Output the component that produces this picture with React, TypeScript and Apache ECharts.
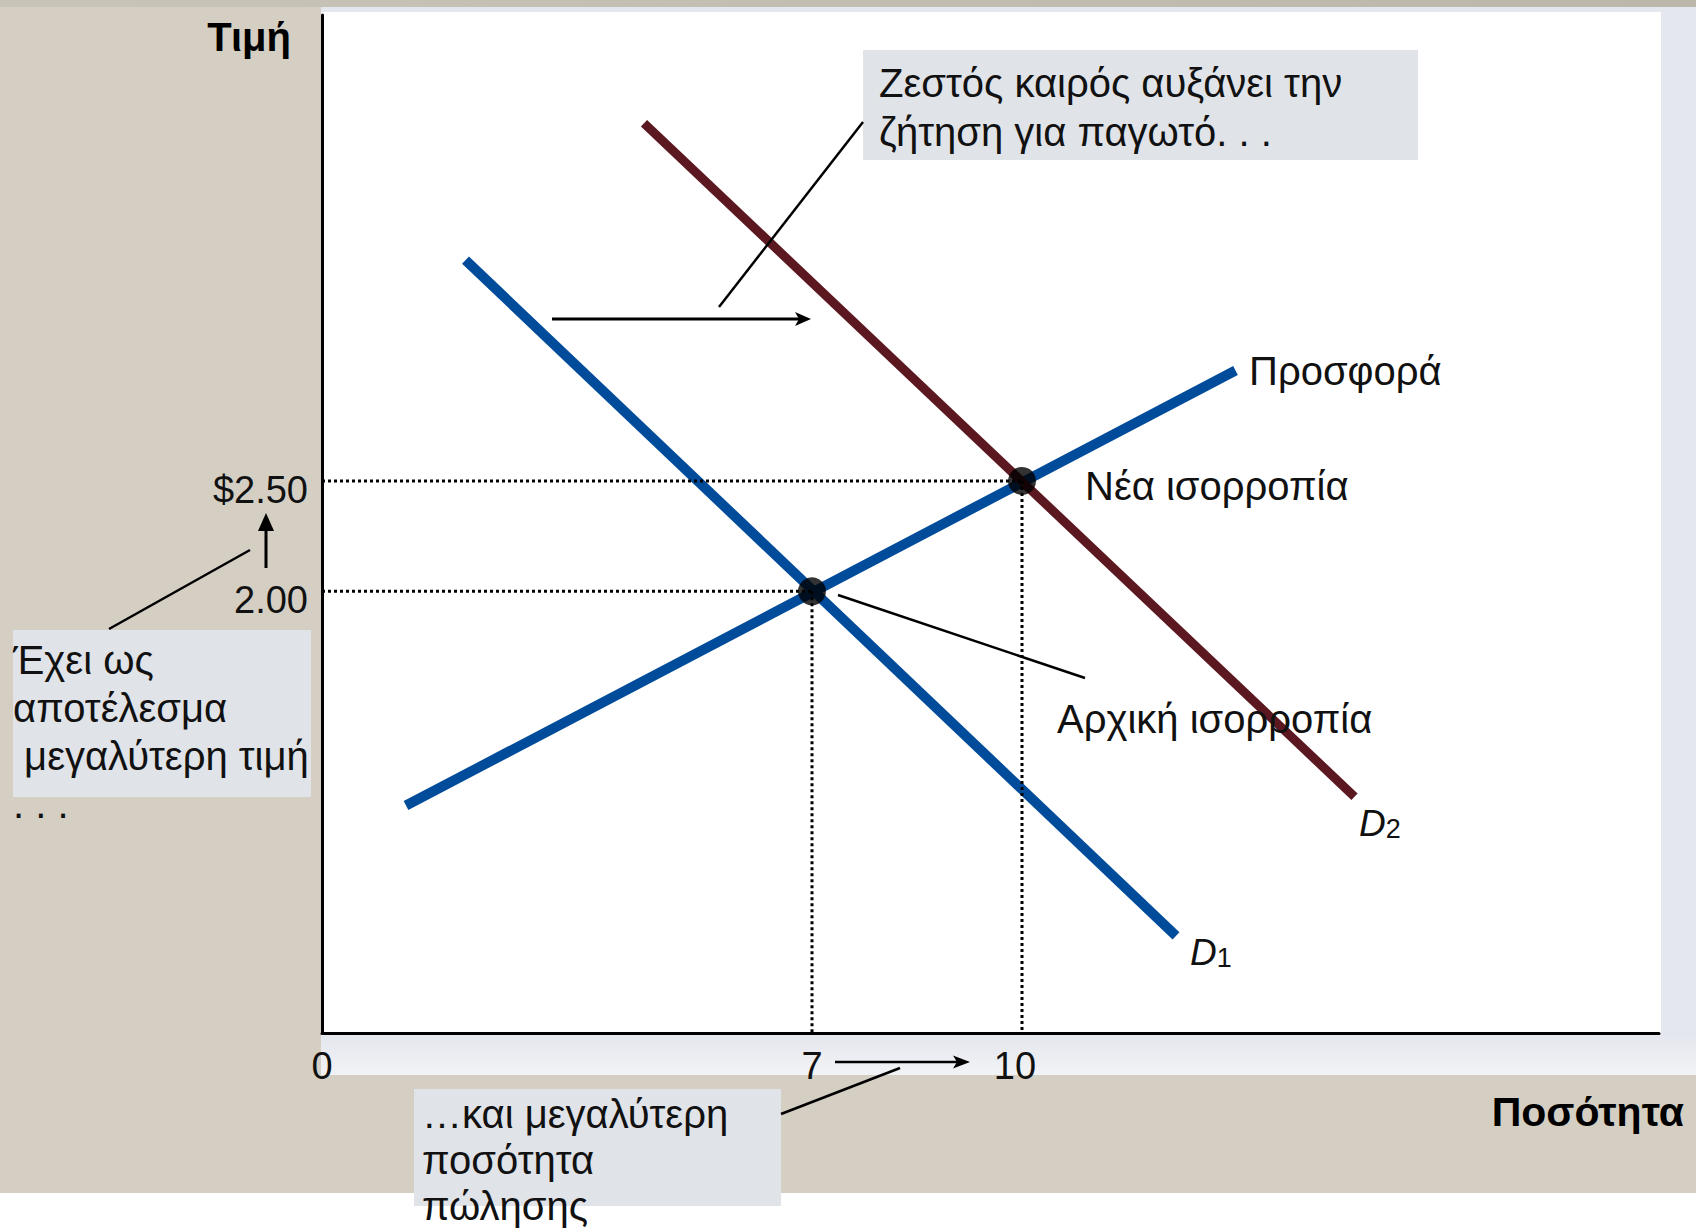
import React, { useEffect, useRef } from "react";
import * as echarts from "echarts";

// ---- data (quantity, price) ----
const supplyQ = [1.2, 13.05];
const supplyP = [1.03, 3.0];
const d1Q = [2.05, 12.2];
const d1P = [3.5, 0.44];
const d2Q = [4.6, 14.75];
const d2P = [4.12, 1.07];
const eqQ = [7, 10];
const eqP = [2.0, 2.5];
const xTicks = [0, 7, 10];
const xTickLabels = ["0", "7", "10"];
const yTicks = [2.0, 2.5];
const yTickLabels = ["2.00", "$2.50"];

const FONT = "'Liberation Sans', Arial, Helvetica, sans-serif";
const BLUE = "#004c9b";
const MAROON = "#5b1820";
const BOX = "#e0e3e8";
const FS = 40;

function pair(qs: number[], ps: number[]) {
  return qs.map((q, i) => [q, ps[i]]);
}

function line(x1: number, y1: number, x2: number, y2: number, w = 2.5) {
  return {
    type: "line",
    z: 50,
    shape: { x1, y1, x2, y2 },
    style: { stroke: "#000", lineWidth: w },
  };
}

function text(x: number, y: number, t: string, extra: any = {}) {
  return {
    type: "text",
    z: 60,
    x,
    y,
    style: {
      text: t,
      fontFamily: FONT,
      fontSize: FS,
      fill: "#111",
      textVerticalAlign: "middle",
      verticalAlign: "middle",
      ...extra,
    },
  };
}

function subLabel(x: number, y: number, sub: string) {
  return {
    type: "text",
    z: 60,
    x,
    y,
    style: {
      text: "{d|D}{s|" + sub + "}",
      verticalAlign: "middle",
      rich: {
        d: { fontFamily: FONT, fontSize: 37, fontStyle: "italic", fill: "#111" },
        s: { fontFamily: FONT, fontSize: 27, fill: "#111", padding: [12, 0, 0, 0] },
      },
    },
  };
}

export default function App() {
  const ref = useRef<HTMLDivElement>(null);

  useEffect(() => {
    if (!ref.current) return;
    const chart = echarts.init(ref.current, undefined, { renderer: "svg" });

    const dotted = { color: "#000", width: 3, type: [3, 3] };
    const guides: any[] = [];
    eqQ.forEach((q, i) => {
      const p = eqP[i];
      guides.push({
        type: "line",
        silent: true,
        showSymbol: false,
        z: 5,
        lineStyle: dotted,
        data: [
          [0, p],
          [q, p],
        ],
      });
      guides.push({
        type: "line",
        silent: true,
        showSymbol: false,
        z: 5,
        lineStyle: dotted,
        data: [
          [q, p],
          [q, 0],
        ],
      });
    });

    const graphic: any[] = [
      // backgrounds
      { type: "rect", z: -100, shape: { x: 0, y: 0, width: 1696, height: 1193 }, style: { fill: "#d4cec3" } },
      {
        type: "rect",
        z: -99,
        shape: { x: 0, y: 0, width: 1696, height: 7 },
        style: {
          fill: new echarts.graphic.LinearGradient(0, 0, 1, 0, [
            { offset: 0, color: "#c9c4b8" },
            { offset: 1, color: "#bcb7ab" },
          ]),
        },
      },
      { type: "rect", z: -98, shape: { x: 321, y: 7, width: 1375, height: 1026 }, style: { fill: "#e4e7ee" } },
      {
        type: "rect",
        z: -98,
        shape: { x: 321, y: 1033, width: 1375, height: 42 },
        style: {
          fill: new echarts.graphic.LinearGradient(0, 0, 0, 1, [
            { offset: 0, color: "#e3e6ed" },
            { offset: 1, color: "#f2f3f6" },
          ]),
        },
      },
      { type: "rect", z: -97, shape: { x: 321, y: 12, width: 1340, height: 1021 }, style: { fill: "#ffffff" } },

      // axis titles
      text(291, 37, "Τιμή", { fontWeight: "bold", fontSize: 40, align: "right", textAlign: "right", fill: "#000" }),
      text(1684, 1112, "Ποσότητα", { fontWeight: "bold", fontSize: 41, align: "right", textAlign: "right", fill: "#000" }),

      // top annotation box
      { type: "rect", z: 40, shape: { x: 863, y: 50, width: 555, height: 110 }, style: { fill: BOX } },
      text(879, 58, "Ζεστός καιρός αυξάνει την\nζήτηση για παγωτό. . .", {
        verticalAlign: "top",
        textVerticalAlign: "top",
        lineHeight: 49,
      }),
      line(863, 122, 719, 307),
      // shift arrow
      line(552, 319, 800, 319, 3),
      { type: "polygon", z: 50, shape: { points: [[811, 319], [795, 312], [799, 319], [795, 326]] }, style: { fill: "#000" } },

      // curve labels
      text(1249, 371, "Προσφορά"),
      text(1085, 486, "Νέα ισορροπία"),
      text(1057, 719, "Αρχική ισορροπία"),
      line(838, 595, 1085, 678),
      subLabel(1359, 823, "2"),
      subLabel(1190, 952, "1"),

      // left annotation
      { type: "rect", z: 40, shape: { x: 13, y: 630, width: 298, height: 167 }, style: { fill: BOX } },
      text(13, 636, "Έχει ως\nαποτέλεσμα\n μεγαλύτερη τιμή\n. . .", {
        verticalAlign: "top",
        textVerticalAlign: "top",
        lineHeight: 48,
      }),
      line(109, 629, 250, 550),
      line(266, 568, 266, 528, 3),
      { type: "polygon", z: 50, shape: { points: [[266, 513], [258, 531], [274, 531]] }, style: { fill: "#000" } },

      // bottom annotation
      { type: "rect", z: 40, shape: { x: 414, y: 1089, width: 367, height: 117 }, style: { fill: BOX } },
      text(422, 1091, "…και μεγαλύτερη\nποσότητα\nπώλησης", {
        verticalAlign: "top",
        textVerticalAlign: "top",
        lineHeight: 46,
      }),
      line(781, 1114, 900, 1068),
      line(835, 1062, 958, 1062, 2.5),
      { type: "polygon", z: 50, shape: { points: [[970, 1062], [953, 1055.5], [957, 1062], [953, 1068.5]] }, style: { fill: "#000" } },
    ];

    chart.setOption({
      animation: false,
      backgroundColor: "transparent",
      textStyle: { fontFamily: FONT },
      grid: { left: 322, right: 37, top: 15, bottom: 197, containLabel: false },
      xAxis: {
        type: "value",
        min: 0,
        max: 19.1,
        axisLine: { show: true, onZero: false, lineStyle: { color: "#000", width: 3 } },
        axisTick: { show: false },
        splitLine: { show: false },
        axisLabel: {
          customValues: xTicks,
          formatter: (v: number) => {
            const s = xTickLabels[xTicks.indexOf(v)] ?? "";
            return v === 10 ? "{l|" + s + "}" : s;
          },
          rich: { l: { fontSize: 38, color: "#111", fontFamily: FONT, padding: [0, 14, 0, 0] } },
          fontSize: 38,
          color: "#111",
          fontFamily: FONT,
          margin: 14,
        },
      },
      yAxis: {
        type: "value",
        min: 0,
        max: 4.61,
        axisLine: { show: true, onZero: false, lineStyle: { color: "#000", width: 3 } },
        axisTick: { show: false },
        splitLine: { show: false },
        axisLabel: {
          customValues: yTicks,
          formatter: (v: number) => "{v|" + (yTickLabels[yTicks.indexOf(v)] ?? "") + "}",
          rich: { v: { fontSize: 38, color: "#111", fontFamily: FONT, padding: [18, 0, 0, 0] } },
          fontSize: 38,
          color: "#111",
          fontFamily: FONT,
          margin: 14,
        },
      },
      series: [
        {
          type: "line",
          name: "Προσφορά",
          showSymbol: false,
          z: 3,
          lineStyle: { color: BLUE, width: 10, cap: "butt" },
          data: pair(supplyQ, supplyP),
        },
        {
          type: "line",
          name: "D1",
          showSymbol: false,
          z: 3,
          lineStyle: { color: BLUE, width: 10, cap: "butt" },
          data: pair(d1Q, d1P),
        },
        {
          type: "line",
          name: "D2",
          showSymbol: false,
          z: 4,
          lineStyle: { color: MAROON, width: 9, cap: "butt" },
          data: pair(d2Q, d2P),
        },
        ...guides,
        {
          type: "scatter",
          z: 10,
          symbolSize: 28,
          itemStyle: { color: "#000" },
          data: pair(eqQ, eqP),
        },
      ],
      graphic,
    });

    return () => chart.dispose();
  }, []);

  return (
    <div
      ref={ref}
      style={{ position: "absolute", left: 0, top: 0, width: 1696, height: 1230 }}
    />
  );
}
